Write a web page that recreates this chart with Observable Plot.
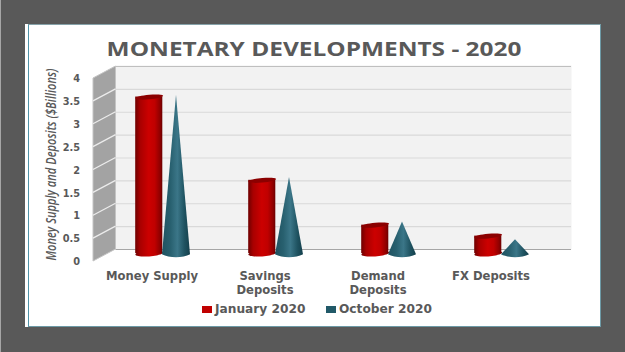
<!DOCTYPE html>
<html>
<head>
<meta charset="utf-8">
<script src="https://cdn.jsdelivr.net/npm/d3@7"></script>
<script src="https://cdn.jsdelivr.net/npm/@observablehq/plot@0.6"></script>
<style>
html,body{margin:0;padding:0;width:625px;height:352px;overflow:hidden;background:#595959;font-family:"Open Sans",sans-serif}
#edge{position:absolute;left:0;top:0;width:1px;height:352px;background:#a6a6a6}
#card{position:absolute;left:25px;top:24px;width:576px;height:303px;background:#fff}
#inner{position:absolute;left:28px;top:24px;width:571px;height:301px;border:1px solid #6d9aa6;border-left:1.5px solid #4f93a8;border-top-color:#86a2a9}
#title{position:absolute;left:314px;top:34.5px;transform:translateX(-50%) scaleX(1.22);font-size:20px;font-weight:700;color:#595959;white-space:nowrap}
#chart{position:absolute;left:0;top:0}
.lg{position:absolute;top:301.5px;font-family:"DejaVu Sans",sans-serif;font-size:12.2px;font-weight:700;color:#595959;white-space:nowrap}
.sw{position:absolute;top:305.5px;width:9.5px;height:7px}
</style>
</head>
<body>
<div id="edge"></div><div id="card"></div><div id="inner"></div>
<div id="title">MONETARY DEVELOPMENTS - 2020</div>
<div id="chart"></div>
<div class="sw" style="left:202px;background:#c00000"></div>
<div class="lg" style="left:215px">January 2020</div>
<div class="sw" style="left:326px;background:#215968"></div>
<div class="lg" style="left:339px">October 2020</div>
<script>
const categories = ["Money Supply", "Savings Deposits", "Demand Deposits", "FX Deposits"];
const axisLabels = ["Money Supply", "Savings\nDeposits", "Demand\nDeposits", "FX Deposits"];
const january = [3.42, 1.60, 0.62, 0.38];
const october = [3.47, 1.67, 0.70, 0.31];
const yTicks = [0, 0.5, 1, 1.5, 2, 2.5, 3, 3.5, 4];
const yTitle = "Money Supply and Deposits ($Billions)";

const janRows = categories.map((c, i) => ({category: c, value: january[i]}));
const octRows = categories.map((c, i) => ({category: c, value: october[i]}));

const backDy = -4, frontDy = 8, wallFrontX = 93, wallBackX = 115.5;
const labelFont = "'DejaVu Sans', sans-serif";

function ellipseSymbol(rx, ry, tilt) {
  return {draw(c) {
    const k = 0.5523, t = tilt;
    const p = (x, y) => [x, y - t * x / rx];
    const seg = (a, b, e) => c.bezierCurveTo(...p(...a), ...p(...b), ...p(...e));
    c.moveTo(...p(-rx, 0));
    seg([-rx, -k * ry], [-k * rx, -ry], [0, -ry]);
    seg([k * rx, -ry], [rx, -k * ry], [rx, 0]);
    seg([rx, k * ry], [k * rx, ry], [0, ry]);
    seg([-k * rx, ry], [-rx, k * ry], [-rx, 0]);
    c.closePath();
  }};
}

const coneShape = {draw(c, l) {
  c.moveTo(-14, 0.8);
  c.lineTo(0, -l);
  c.lineTo(14, 0.8);
  c.bezierCurveTo(7, 4.6, -7, 4.6, -14, 0.8);
  c.closePath();
}};

function defs() {
  const svg = d3.create("svg:g");
  const d = svg.append("defs");
  const grad = (id, stops) => {
    const g = d.append("linearGradient").attr("id", id);
    stops.forEach(([o, col]) => g.append("stop").attr("offset", o).attr("stop-color", col));
  };
  grad("cyl", [[0, "#6e0000"], [0.18, "#a80000"], [0.5, "#cc0000"], [0.72, "#c00000"], [0.92, "#8e0000"], [1, "#6a0000"]]);
  grad("cone", [[0, "#1f5260"], [0.3, "#28606f"], [0.55, "#3b7688"], [0.8, "#1f5361"], [1, "#143f4b"]]);
  return svg.node();
}

function sideWall(index, {y}) {
  const g = d3.create("svg:g");
  g.append("path")
    .attr("d", `M${wallFrontX},${y(4) + frontDy}L${wallBackX},${y(4) + backDy}L${wallBackX},${y(0) + backDy}L${wallFrontX},${y(0) + frontDy}Z`)
    .attr("fill", "#a3a3a3").attr("stroke", "#c4c4c4").attr("stroke-width", 1);
  g.selectAll("line").data(yTicks.slice(1, -1)).join("line")
    .attr("x1", wallFrontX).attr("x2", wallBackX)
    .attr("y1", v => y(v) + frontDy).attr("y2", v => y(v) + backDy)
    .attr("stroke", "#ececec").attr("stroke-width", 1.2);
  return g.node();
}

const plot = Plot.plot({
  width: 625, height: 352,
  marginTop: 0, marginLeft: 0, marginRight: 0, marginBottom: 84,
  style: {background: "transparent", fontFamily: "'Open Sans', sans-serif"},
  x: {type: "band", domain: categories, range: [94.3, 547.7], padding: 0},
  y: {domain: [0, 4], range: [253, 70]},
  length: {type: "linear", domain: [0, 4], range: [0, 183]},
  marks: [
    defs,
    Plot.frame({fill: "#f2f2f2", stroke: null, insetLeft: 115.5, insetRight: 54, insetTop: 65, insetBottom: 19}),
    sideWall,
    Plot.ruleY(yTicks.slice(1, -1), {y: d => d, dy: backDy, stroke: "#d9d9d9", strokeWidth: 1.2, insetLeft: 115.5, insetRight: 54}),
    Plot.ruleY([4], {dy: backDy, stroke: "#bfbfbf", strokeWidth: 1.2, insetLeft: 115.5, insetRight: 54}),
    Plot.ruleY([0], {dy: backDy, stroke: "#a6a6a6", strokeWidth: 1.2, insetLeft: 115.5, insetRight: 54}),
    Plot.dot(janRows, {x: "category", y: () => 0, dx: -2.75, r: 5, stroke: null, fill: "url(#cyl)", symbol: ellipseSymbol(13.85, 2.9, 0.9)}),
    Plot.barY(janRows, {x: "category", y: "value", fill: "url(#cyl)", insetLeft: 40.2, insetRight: 45.7}),
    Plot.dot(janRows, {x: "category", y: "value", dx: -2.75, r: 5, stroke: null, fill: "#8b0000", symbol: ellipseSymbol(13.85, 2.3, 1.3)}),
    Plot.vector(octRows, {x: "category", y: () => 0, length: "value", anchor: "start", dx: 24, stroke: null, fill: "url(#cone)", shape: coneShape}),
    Plot.axisY({ticks: yTicks, tickFormat: d => String(d), tickSize: 0, tickPadding: 0, dx: 79.5, dy: 8.5, fontSize: 9.8, fontWeight: 700, fontFamily: labelFont, fill: "#595959", label: null}),
    Plot.axisX({anchor: "bottom", tickSize: 0, tickPadding: 0, dy: 2, tickFormat: d => axisLabels[categories.indexOf(d)], fontSize: 11.6, fontWeight: 700, fontFamily: labelFont, fill: "#595959", label: null, lineHeight: 1.2, textOverflow: null}),
    Plot.text([yTitle], {
      frameAnchor: "left", textAnchor: "middle", dx: 51, dy: 30, rotate: -90,
      fontStyle: "italic", fontWeight: 600, fontSize: 14, fill: "#595959",
      render(index, scales, values, dimensions, context, next) {
        const g = next(index, scales, values, dimensions, context);
        d3.select(g).selectAll("text").attr("textLength", 192).attr("lengthAdjust", "spacingAndGlyphs");
        return g;
      }
    })
  ]
});
document.getElementById("chart").append(plot);
</script>
</body>
</html>
